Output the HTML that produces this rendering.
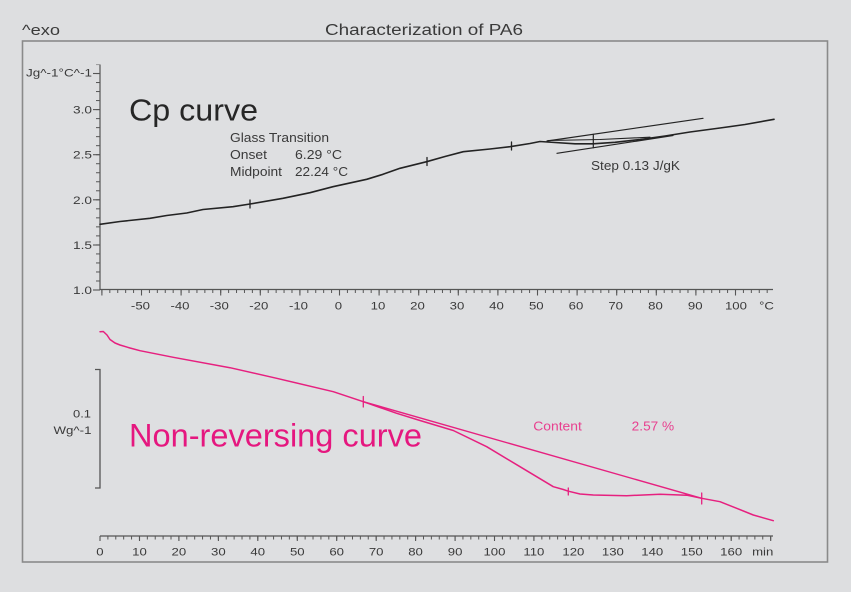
<!DOCTYPE html>
<html>
<head>
<meta charset="utf-8">
<style>
html,body{margin:0;padding:0;background:#dddee0;}
svg{display:block;}
text{font-family:"Liberation Sans",Arial,sans-serif;fill:#3a3a3a;}
.sx{transform-box:fill-box;transform-origin:center;transform:scaleX(1.2);}
</style>
</head>
<body>
<svg width="851" height="592" viewBox="0 0 851 592" xmlns="http://www.w3.org/2000/svg">
<defs>
  <pattern id="tx" patternUnits="userSpaceOnUse" x="101.4" y="0" width="7.92" height="10">
    <rect x="0" y="0" width="1" height="10" fill="#555"/>
  </pattern>
  <pattern id="bx" patternUnits="userSpaceOnUse" x="99.5" y="0" width="7.89" height="10">
    <rect x="0" y="0" width="1" height="10" fill="#555"/>
  </pattern>
  <pattern id="ty" patternUnits="userSpaceOnUse" x="0" y="289.5" width="10" height="9.02">
    <rect x="0" y="0" width="10" height="1" fill="#555"/>
  </pattern>
</defs>

<rect x="0" y="0" width="851" height="592" fill="#dddee0"/>
<!-- frame -->
<rect x="22.5" y="41" width="805" height="521" fill="#dedfe1" stroke="#8a8a8a" stroke-width="1.6"/>

<!-- titles -->
<text x="22" y="35" font-size="15" textLength="38" lengthAdjust="spacingAndGlyphs">^exo</text>
<text x="325" y="35" font-size="15.5" textLength="198" lengthAdjust="spacingAndGlyphs">Characterization of PA6</text>

<!-- ===== TOP CHART ===== -->
<!-- y axis -->
<line x1="100" y1="64.5" x2="100" y2="290" stroke="#555" stroke-width="1.2"/>
<rect x="96" y="64.5" width="4" height="226" fill="url(#ty)"/>
<g stroke="#555" stroke-width="1.1">
  <line x1="93" y1="290" x2="100" y2="290"/>
  <line x1="93" y1="245" x2="100" y2="245"/>
  <line x1="93" y1="199.8" x2="100" y2="199.8"/>
  <line x1="93" y1="154.7" x2="100" y2="154.7"/>
  <line x1="93" y1="109.6" x2="100" y2="109.6"/>
  <line x1="93" y1="73.5" x2="100" y2="73.5"/>
</g>
<text x="26" y="76.5" font-size="11" textLength="66" lengthAdjust="spacingAndGlyphs">Jg^-1°C^-1</text>
<text x="73" y="113.5" font-size="11" textLength="19" lengthAdjust="spacingAndGlyphs">3.0</text>
<text x="73" y="158.7" font-size="11" textLength="19" lengthAdjust="spacingAndGlyphs">2.5</text>
<text x="73" y="203.8" font-size="11" textLength="19" lengthAdjust="spacingAndGlyphs">2.0</text>
<text x="73" y="249" font-size="11" textLength="19" lengthAdjust="spacingAndGlyphs">1.5</text>
<text x="73" y="294.2" font-size="11" textLength="19" lengthAdjust="spacingAndGlyphs">1.0</text>

<!-- x axis -->
<line x1="100" y1="289.5" x2="773" y2="289.5" stroke="#555" stroke-width="1.2"/>
<rect x="101" y="289.5" width="672" height="3.5" fill="url(#tx)"/>
<g stroke="#555" stroke-width="1.1">
  <line x1="101.9" y1="289.5" x2="101.9" y2="295.5"/>
  <line x1="141.5" y1="289.5" x2="141.5" y2="295.5"/>
  <line x1="181.1" y1="289.5" x2="181.1" y2="295.5"/>
  <line x1="220.7" y1="289.5" x2="220.7" y2="295.5"/>
  <line x1="260.3" y1="289.5" x2="260.3" y2="295.5"/>
  <line x1="299.9" y1="289.5" x2="299.9" y2="295.5"/>
  <line x1="339.5" y1="289.5" x2="339.5" y2="295.5"/>
  <line x1="379.1" y1="289.5" x2="379.1" y2="295.5"/>
  <line x1="418.7" y1="289.5" x2="418.7" y2="295.5"/>
  <line x1="458.3" y1="289.5" x2="458.3" y2="295.5"/>
  <line x1="497.9" y1="289.5" x2="497.9" y2="295.5"/>
  <line x1="537.5" y1="289.5" x2="537.5" y2="295.5"/>
  <line x1="577.1" y1="289.5" x2="577.1" y2="295.5"/>
  <line x1="616.7" y1="289.5" x2="616.7" y2="295.5"/>
  <line x1="656.3" y1="289.5" x2="656.3" y2="295.5"/>
  <line x1="695.9" y1="289.5" x2="695.9" y2="295.5"/>
  <line x1="735.5" y1="289.5" x2="735.5" y2="295.5"/>
</g>
<g font-size="11" text-anchor="middle">
  <text class="sx" x="140.5" y="309.3">-50</text>
  <text class="sx" x="180" y="309.3">-40</text>
  <text class="sx" x="219.3" y="309.3">-30</text>
  <text class="sx" x="258.8" y="309.3">-20</text>
  <text class="sx" x="298.5" y="309.3">-10</text>
  <text class="sx" x="338.5" y="309.3">0</text>
  <text class="sx" x="378" y="309.3">10</text>
  <text class="sx" x="417.5" y="309.3">20</text>
  <text class="sx" x="457" y="309.3">30</text>
  <text class="sx" x="496.5" y="309.3">40</text>
  <text class="sx" x="536.3" y="309.3">50</text>
  <text class="sx" x="576" y="309.3">60</text>
  <text class="sx" x="615.7" y="309.3">70</text>
  <text class="sx" x="655.5" y="309.3">80</text>
  <text class="sx" x="695.3" y="309.3">90</text>
  <text class="sx" x="736" y="309.3">100</text>
  <text class="sx" x="766.5" y="309.3">°C</text>
</g>

<!-- Cp texts -->
<text x="129" y="120.5" font-size="30.5" fill="#222" style="fill:#262626" textLength="129" lengthAdjust="spacingAndGlyphs">Cp curve</text>
<text x="230" y="142" font-size="12.5" textLength="99" lengthAdjust="spacingAndGlyphs">Glass Transition</text>
<text x="230" y="159" font-size="12.5" textLength="37" lengthAdjust="spacingAndGlyphs">Onset</text>
<text x="295" y="159" font-size="12.5" textLength="47" lengthAdjust="spacingAndGlyphs">6.29 °C</text>
<text x="230" y="176" font-size="12.5" textLength="52" lengthAdjust="spacingAndGlyphs">Midpoint</text>
<text x="295" y="176" font-size="12.5" textLength="53" lengthAdjust="spacingAndGlyphs">22.24 °C</text>
<text x="591" y="170" font-size="12.5" textLength="89" lengthAdjust="spacingAndGlyphs">Step 0.13 J/gK</text>

<!-- Cp curve -->
<g fill="none" stroke="#232323" stroke-linejoin="round" stroke-linecap="round">
  <polyline stroke-width="1.6" points="100,224.3 120,221.5 150,218.3 166.7,215.5 186.7,213 203,209.5 233,206.7 250,204 283,198.3 310,192.7 333,186.7 366.7,179.3 383,174.3 400,168.3 426.7,161.7 445,156.5 463.3,151.7 490,149 510,146.7 530,143.5 540,141.5 555,142.5 575,143.8 593,143.8 615,142.3 640,139.5 665,136 690,132 720,128 745,124.5 774,119.3"/>
  <line stroke-width="1.2" x1="547" y1="141" x2="703" y2="118.3"/>
  <line stroke-width="1.2" x1="557" y1="153.3" x2="673" y2="135.5"/>
  <polyline stroke-width="1.1" points="548,140.5 600,139.5 650,137.2"/>
  <line stroke-width="1.2" x1="593.3" y1="134.3" x2="593.3" y2="147.7"/>
  <line stroke-width="1.3" x1="250" y1="200" x2="250" y2="208"/>
  <line stroke-width="1.3" x1="427" y1="157.5" x2="427" y2="165.5"/>
  <line stroke-width="1.3" x1="511.5" y1="142" x2="511.5" y2="150"/>
</g>

<!-- ===== BOTTOM CHART ===== -->
<!-- scale bracket -->
<g stroke="#555" stroke-width="1.3" fill="none">
  <polyline points="95,369.5 100,369.5 100,488 95,488"/>
</g>
<text x="73" y="417.3" font-size="11" textLength="18" lengthAdjust="spacingAndGlyphs">0.1</text>
<text x="53.5" y="434" font-size="11" textLength="38" lengthAdjust="spacingAndGlyphs">Wg^-1</text>

<!-- x axis -->
<line x1="100" y1="536" x2="773" y2="536" stroke="#555" stroke-width="1.2"/>
<rect x="99.5" y="536" width="674" height="3.5" fill="url(#bx)"/>
<g stroke="#555" stroke-width="1.1">
  <line x1="100" y1="536" x2="100" y2="541"/>
  <line x1="139.5" y1="536" x2="139.5" y2="541"/>
  <line x1="178.9" y1="536" x2="178.9" y2="541"/>
  <line x1="218.4" y1="536" x2="218.4" y2="541"/>
  <line x1="257.8" y1="536" x2="257.8" y2="541"/>
  <line x1="297.3" y1="536" x2="297.3" y2="541"/>
  <line x1="336.7" y1="536" x2="336.7" y2="541"/>
  <line x1="376.2" y1="536" x2="376.2" y2="541"/>
  <line x1="415.6" y1="536" x2="415.6" y2="541"/>
  <line x1="455.1" y1="536" x2="455.1" y2="541"/>
  <line x1="494.5" y1="536" x2="494.5" y2="541"/>
  <line x1="533.9" y1="536" x2="533.9" y2="541"/>
  <line x1="573.4" y1="536" x2="573.4" y2="541"/>
  <line x1="612.9" y1="536" x2="612.9" y2="541"/>
  <line x1="652.3" y1="536" x2="652.3" y2="541"/>
  <line x1="691.8" y1="536" x2="691.8" y2="541"/>
  <line x1="731.2" y1="536" x2="731.2" y2="541"/>
  <line x1="770.7" y1="536" x2="770.7" y2="541"/>
</g>
<g font-size="11" text-anchor="middle">
  <text class="sx" x="100" y="555.5">0</text>
  <text class="sx" x="139.5" y="555.5">10</text>
  <text class="sx" x="178.9" y="555.5">20</text>
  <text class="sx" x="218.4" y="555.5">30</text>
  <text class="sx" x="257.8" y="555.5">40</text>
  <text class="sx" x="297.3" y="555.5">50</text>
  <text class="sx" x="336.7" y="555.5">60</text>
  <text class="sx" x="376.2" y="555.5">70</text>
  <text class="sx" x="415.6" y="555.5">80</text>
  <text class="sx" x="455.1" y="555.5">90</text>
  <text class="sx" x="494.5" y="555.5">100</text>
  <text class="sx" x="533.9" y="555.5">110</text>
  <text class="sx" x="573.4" y="555.5">120</text>
  <text class="sx" x="612.9" y="555.5">130</text>
  <text class="sx" x="652.3" y="555.5">140</text>
  <text class="sx" x="691.8" y="555.5">150</text>
  <text class="sx" x="731.2" y="555.5">160</text>
  <text class="sx" x="762.7" y="555.5">min</text>
</g>

<!-- non-reversing texts -->
<text x="129" y="446.7" font-size="32" style="fill:#e5177f" textLength="293" lengthAdjust="spacingAndGlyphs">Non-reversing curve</text>
<text x="533.3" y="430.7" font-size="12.5" style="fill:#e8408f" textLength="48.5" lengthAdjust="spacingAndGlyphs">Content</text>
<text x="631.7" y="430.7" font-size="12.5" style="fill:#e8408f" textLength="42.5" lengthAdjust="spacingAndGlyphs">2.57 %</text>

<!-- pink curve -->
<g fill="none" stroke="#e6207f" stroke-linejoin="round" stroke-linecap="round">
  <polyline stroke-width="1.5" points="100,331.7 103.3,331.5 107,335 110,339.5 115,343 120,345 130,348 140,350.7 173.3,357.3 230,367.7 276.7,378.3 333.3,391.7 363.3,401.7 380,407.5 396.7,413.3 420,420.5 430,423.5 453.3,430.5 486.7,446.7 520,466.7 553.3,486.7 563.3,489.5 568.3,491.2 580,494 593.3,495 626.7,495.7 660,494.3 686.7,495.2 701.7,498.3 720,501.7 736.7,508.3 753.3,515 773.3,520.7"/>
  <line stroke-width="1.4" x1="363.3" y1="401.7" x2="701.7" y2="498.3"/>
  <line stroke-width="1.3" x1="363.3" y1="396.5" x2="363.3" y2="407"/>
  <line stroke-width="1.3" x1="568.3" y1="488" x2="568.3" y2="495"/>
  <line stroke-width="1.3" x1="701.7" y1="493" x2="701.7" y2="504"/>
</g>
</svg>
</body>
</html>
